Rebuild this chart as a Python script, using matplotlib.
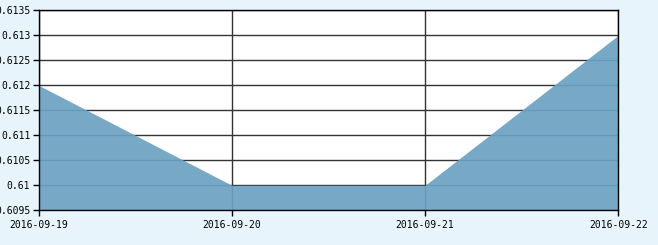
import matplotlib
matplotlib.use("Agg")
import matplotlib.pyplot as plt
import numpy as np

dates = ["2016-09-19", "2016-09-20", "2016-09-21", "2016-09-22"]
values = [0.612, 0.610, 0.610, 0.613]
y_ticks = [0.6095, 0.61, 0.6105, 0.611, 0.6115, 0.612, 0.6125, 0.613, 0.6135]
y_labels = ["0.6095", "0.61", "0.6105", "0.611", "0.6115", "0.612", "0.6125", "0.613", "0.6135"]

W, H = 658, 245
fig = plt.figure(figsize=(W / 100, H / 100), dpi=100)
fig.patch.set_facecolor("#e8f4fc")
ax = fig.add_axes([38.7 / W, 1 - 210.3 / H, (618.3 - 38.7) / W, (210.3 - 10.3) / H])
ax.set_facecolor("white")

x = np.arange(len(dates))
ax.fill_between(x, values, 0.6095, color="#6ba2c3", alpha=0.92, linewidth=0, zorder=3)

ax.set_xlim(0, len(dates) - 1)
ax.set_ylim(0.6095, 0.6135)
ax.set_xticks(x)
ax.set_xticklabels(dates)
ax.set_yticks(y_ticks)
ax.set_yticklabels(y_labels)

ax.grid(True, color="#333333", linewidth=1.0, zorder=1)
ax.set_axisbelow(True)
for s in ax.spines.values():
    s.set_color("black")
    s.set_linewidth(1.0)
    s.set_zorder(5)

ax.tick_params(axis="both", direction="out", length=4, width=1, color="black",
               labelsize=7, labelcolor="black")
ax.tick_params(axis="y", pad=2)
ax.tick_params(axis="x", pad=3)
for lab in ax.get_xticklabels() + ax.get_yticklabels():
    lab.set_family("DejaVu Sans Mono")

fig.savefig("out.png", dpi=100, facecolor=fig.get_facecolor())
